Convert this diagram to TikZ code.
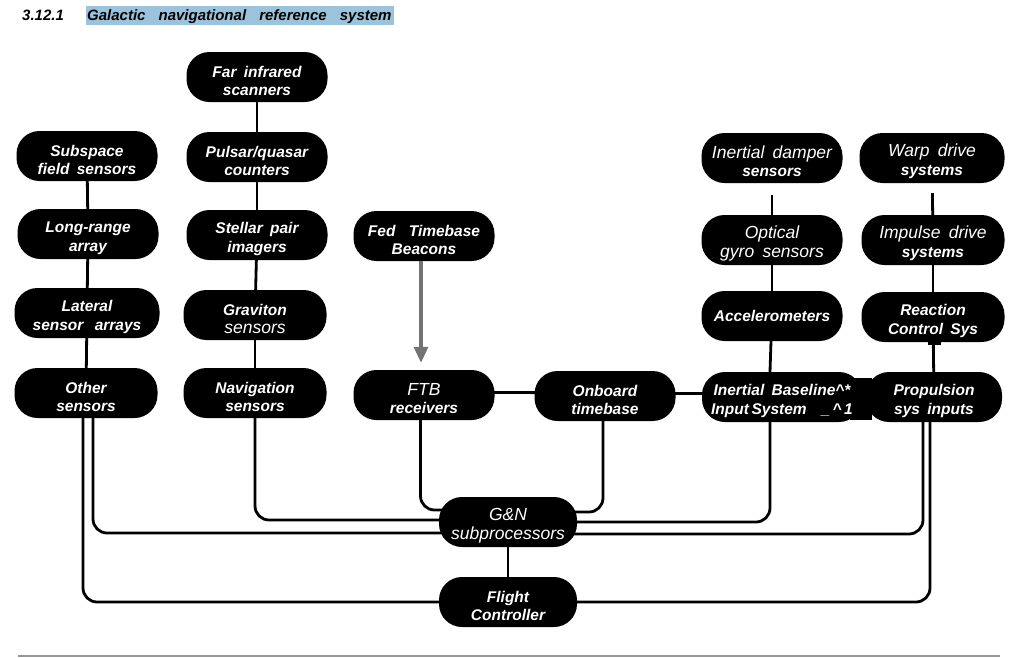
\documentclass[tikz,border=0pt]{standalone}
\usepackage{fontspec}
\setmainfont{Liberation Sans}[WordSpace=1.7]
\usetikzlibrary{arrows.meta,backgrounds}
\definecolor{hl}{RGB}{155,195,220}
\definecolor{arrowgray}{RGB}{115,115,115}
\definecolor{rulegray}{RGB}{150,150,150}
\newcommand\boxfont{\fontsize{15.5}{18.5}\selectfont\bfseries\itshape}
\newcommand\titlefont{\fontsize{15}{17}\selectfont\bfseries\itshape}
\newcommand\lightit[1]{{\fontsize{17.5}{18.5}\selectfont\mdseries\itshape #1}}
\newcommand\fl{\rule{0pt}{19.5pt}}
\tikzset{
  nb/.style={fill=black, text=white, rounded corners=23pt, minimum width=141pt,
    minimum height=50pt, align=center, inner sep=0pt, font=\boxfont},
  link/.style={line width=2.8pt},
  bus/.style={line width=2.8pt, rounded corners=14pt},
  feed/.style={draw=arrowgray, line width=3.3pt, -{Triangle[length=16pt,width=14pt]}},
}
\begin{document}
\begin{tikzpicture}[x=1pt,y=-1pt]
\useasboundingbox (0,0) rectangle (1031,657);
% title
\fill[hl] (86,6) rectangle (394,25);
\node[anchor=base west, font=\titlefont, inner sep=0pt] (num) at (22,20) {3.12.1};
\node[anchor=base west, font=\titlefont, inner sep=0pt] (ttl) at (87,20) {Galactic\hspace{6pt} navigational\hspace{6pt} reference\hspace{6pt} system};
% left column
\node[nb] (sub)  at (87,156)  {\fl Subspace\\field sensors};
\node[nb] (long) at (88,234)  {\fl Long-range\\array};
\node[nb, minimum width=145pt] (lat) at (87,313) {\fl Lateral\\sensor\hspace{4pt} arrays};
\node[nb, minimum width=143pt] (oth) at (86,393) {\fl Other\\sensors};
% second column
\node[nb] (far)  at (257,77)  {\fl Far infrared\\scanners};
\node[nb] (pul)  at (257,157) {\fl Pulsar/quasar\\counters};
\node[nb] (stel) at (257,235) {\fl Stellar pair\\imagers};
\node[nb, minimum width=143pt] (grav) at (255,315) {\fl Graviton\\\lightit{sensors}};
\node[nb, minimum width=143pt] (nav)  at (255,393) {\fl Navigation\\sensors};
% middle
\node[nb] (fed) at (424,236) {\fl Fed\hspace{6pt} Timebase\\Beacons};
\node[nb] (ftb) at (424,395) {\fl\lightit{FTB}\\receivers};
\node[nb] (onb) at (605,396) {\fl Onboard\\timebase};
% right columns
\node[nb] (dmp)  at (772,158) {\fl\lightit{Inertial damper}\\sensors};
\node[nb, minimum width=145pt] (warp) at (932,158) {\fl\lightit{Warp drive}\\systems};
\node[nb] (gyro) at (772,240) {\fl\lightit{Optical}\\\lightit{gyro sensors}};
\node[nb, minimum width=143pt] (imp)  at (933,240) {\fl\lightit{Impulse drive}\\systems};
\node[nb] (acc)  at (772,316) {Accelerometers};
\node[nb, minimum width=143pt] (rcs)  at (933,317) {\fl Reaction\\Control Sys};
\fill (850,378) rectangle (872,420);
\node[nb, minimum width=160pt] (ibis) at (782,397) {\fl Inertial Baseline\textasciicircum*\\Input\,System \ \_\,\textasciicircum\,1};
\node[nb, minimum width=136pt] (prop) at (934,397) {\fl Propulsion\\sys inputs};
\fill (928,340) rectangle (941,345);
% bottom
\node[nb, minimum width=138pt] (gn) at (508,522) {\fl\lightit{G\&N}\\\lightit{subprocessors}};
\node[nb, minimum width=138pt] (fc) at (508,602) {\fl Flight\\Controller};
% connectors
\begin{pgfonlayer}{background}
\fill[white] (0,0) rectangle (1031,657);
\draw[link] (sub) -- (long);
\draw[link] (long) -- (lat);
\draw[link] (lat) -- (oth);
\draw[link] (far) -- (pul);
\draw[link] (pul) -- (stel);
\draw[link] (stel) -- (grav);
\draw[link] (grav) -- (nav);
\draw[link, shorten <=12pt] (dmp) -- (gyro);
\draw[link, shorten <=10pt] (warp) -- (imp);
\draw[link] (gyro) -- (acc);
\draw[link] (imp) -- (rcs);
\draw[link] ([xshift=-1pt]acc.south) -- ([xshift=-12pt]ibis.north);
\draw[link] (rcs) -- (prop);
\draw[link] ([yshift=3pt]ftb.center) -- ([yshift=3pt]onb.center);
\draw[link] ([yshift=3pt]onb.center) -- ([yshift=3pt]ibis.center);
\draw[link] (gn) -- (fc);
\draw[bus] ([xshift=-3.5pt]ftb.south) |- ([yshift=12pt]gn.center);
\draw[bus] ([xshift=-2pt]onb.south) |- ([yshift=10pt]gn.center);
\draw[bus] (nav.south) |- ([yshift=2pt]gn.center);
\draw[bus] ([xshift=-12pt]ibis.south) |- (gn.center);
\draw[bus] ([xshift=7pt]oth.south) |- ([yshift=-11pt]gn.center);
\draw[bus] ([xshift=-11pt]prop.south) |- ([yshift=-12pt]gn.center);
\draw[bus] ([xshift=-3pt]oth.south) |- (fc.center);
\draw[bus] ([xshift=-4pt]prop.south) |- (fc.center);
\end{pgfonlayer}
\draw[feed, shorten >=7pt] ([xshift=-3pt]fed.south) -- ([xshift=-3pt]ftb.north);
\draw[rulegray, line width=2pt] (18,656) -- (1000,656);
\end{tikzpicture}
\end{document}
